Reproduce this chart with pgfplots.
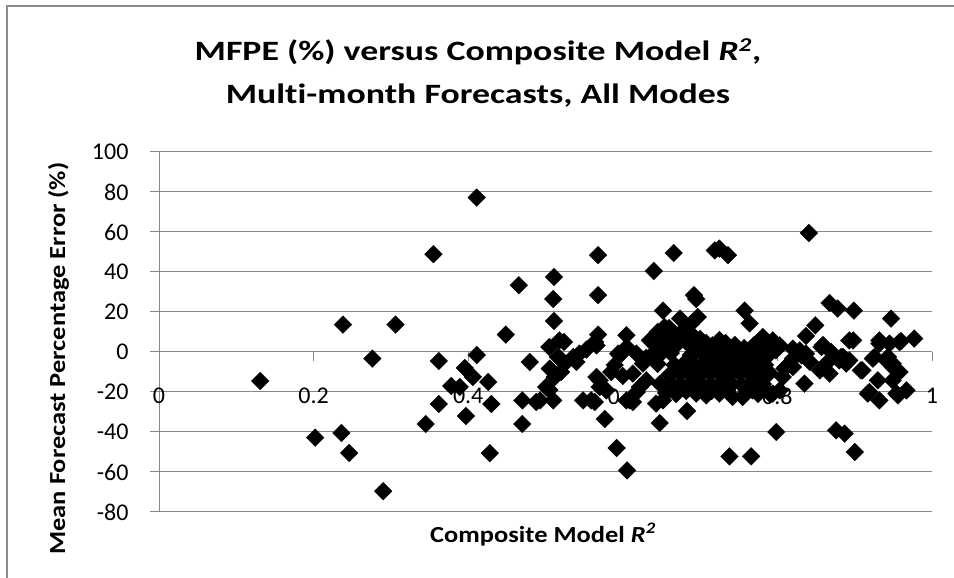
\documentclass[border=0pt]{standalone}
\usepackage{pgfplots}
\pgfplotsset{compat=1.18}
\usepackage{graphicx}
\usepackage{fontspec}
\setmainfont{Carlito}[Ligatures=NoCommon]
\definecolor{gridgray}{HTML}{878787}
\definecolor{bordergray}{HTML}{8C8C8C}
\begin{document}
\begin{tikzpicture}
\useasboundingbox (0,0) rectangle (954pt,578pt);
\draw[bordergray, line width=2pt] (7pt,0pt) -- (7pt,572pt) -- (954pt,572pt);
\begin{axis}[
  at={(159pt,66pt)}, anchor=south west,
  scale only axis, width=773pt, height=360pt,
  xmin=0, xmax=1, ymin=-80, ymax=100,
  xtick={0,0.2,0.4,0.6,0.8,1},
  xticklabels={0,0.2,0.4,0.6,0.8,1},
  ytick={-80,-60,-40,-20,0,20,40,60,80,100},
  axis x line=middle, axis y line=left,
  axis line style={-, draw=gridgray, line width=1pt},
  ymajorgrids, grid style={draw=gridgray, line width=1pt},
  tick style={draw=gridgray, line width=1pt},
  major tick length=9pt,
  tick align=outside,
  hide obscured x ticks=false,
  /pgf/number format/assume math mode=true,
  ticklabel style={font=\fontsize{24}{28}\selectfont, text=black},
  xticklabel style={anchor=center, yshift=-35pt},
  yticklabel style={anchor=east, xshift=-18pt},
  clip=false,
]
\addplot[only marks, mark=square*, mark size=6.3pt,
  mark options={rotate=45, fill=black, draw=black, line width=0.2pt}]
table {
x y
0.131 -14.5
0.202 -42.8
0.236 -40.5
0.238 13.7
0.246 -50.5
0.276 -3.3
0.290 -69.6
0.306 13.7
0.345 -36
0.355 48.9
0.362 -4.5
0.362 -26
0.378 -17
0.389 -17.5
0.3956 -8
0.397 -32
0.406 -12.5
0.411 -1.5
0.411 77.2
0.426 -15
0.430 -26
0.428 -50.6
0.4486 8.7
0.4654 33.4
0.470 -24.2
0.470 -36
0.4796 -5
0.488 -25
0.493 -24.2
0.5055 -8.3
0.501 -17.5
0.505 -19
0.510 -24.2
0.512 -12.5
0.511 37.5
0.510 26.5
0.511 15.5
0.518 5.8
0.505 2.5
0.516 -2.5
0.519 -3.3
0.524 5
0.525 -5.8
0.520 -10
0.536 -2.5
0.540 -5
0.544 -0.8
0.553 1.2
0.5486 -24.2
0.559 -24.2
0.5637 -25
0.566 3.3
0.564 5
0.568 8.7
0.568 48.4
0.568 28.4
0.566 -12.5
0.570 -14.2
0.570 -17.5
0.5766 -33.5
0.5788 -19.2
0.5895 -6.5
0.594 -0.8
0.592 -48
0.6055 -59.2
0.6047 8.4
0.605 2.5
0.596 -1.7
0.6176 -0.8
0.626 -5.8
0.613 -10.8
0.6305 -14.2
0.622 -17.5
0.6047 -24.2
0.609 -24.2
0.613 -25
0.643 -25.8
0.652 -24.2
0.6477 -35.5
0.683 -29.5
0.640 40.5
0.6658 49.5
0.652 20.7
0.637 5.8
0.635 5.8
0.643 0.8
0.652 7.5
0.654 12.5
0.663 9.2
0.678 10.8
0.674 16.7
0.682 10.8
0.692 28.4
0.695 26.5
0.697 17.5
0.708 4.5
0.716 3.3
0.719 50.8
0.725 51.7
0.736 48.4
0.745 3.5
0.738 -52.2
0.766 -52.2
0.7576 20.7
0.764 14.3
0.781 7.5
0.794 5.8
0.798 0.8
0.7986 -40
0.803 3.3
0.820 1.7
0.831 -1.7
0.842 -5
0.837 8
0.837 -0.8
0.829 0.8
0.820 -3.3
0.811 -7.5
0.849 13.3
0.8407 59.5
0.8675 24.5
0.878 21.7
0.899 20.7
0.859 3.5
0.857 2.5
0.863 -5.8
0.880 -4.2
0.893 5.8
0.898 5.8
0.893 -4.2
0.885 -2.5
0.910 -9.2
0.8697 0
0.8826 -2.5
0.889 -5.8
0.9256 -2.5
0.9235 -3.3
0.941 -4.2
0.943 -2.5
0.949 -5.8
0.949 -7.5
0.932 4.2
0.932 5.8
0.945 4.2
0.947 16.7
0.960 5.4
0.958 5
0.977 6.7
0.908 -9.2
0.8675 -10.8
0.855 -9.2
0.820 -7.5
0.958 -10
0.956 -10
0.835 -15.8
0.807 -12.5
0.809 -8.3
0.930 -14.2
0.949 -14.2
0.919 -20
0.917 -20.8
0.932 -24.2
0.954 -20.8
0.956 -21.7
0.967 -19.2
0.803 -19.2
0.790 -20.8
0.794 -20.8
0.876 -39.2
0.887 -40.8
0.900 -50
0.695 -20.8
0.708 -21.7
0.725 -20.8
0.742 -22.5
0.755 -22.5
0.768 -19.2
0.655 4
0.668 3
0.682 5
0.695 3.5
0.720 2.5
0.733 4.5
0.757 2
0.770 3.5
0.785 2
0.649 -1
0.662 -0.5
0.688 -1.5
0.700 0
0.713 -1
0.727 -0.5
0.740 -1.5
0.752 -0.8
0.765 -1.2
0.778 -0.5
0.790 -1
0.645 -6
0.667 -6.5
0.680 -5.5
0.693 -6.5
0.706 -5.5
0.719 -6
0.731 -6.5
0.744 -5.5
0.757 -6.5
0.770 -5.5
0.784 -6.5
0.660 -11.5
0.673 -10.5
0.686 -11
0.699 -11.5
0.712 -10.5
0.725 -11
0.738 -11.5
0.751 -10.5
0.764 -11
0.777 -11.5
0.790 -10.5
0.648 -16
0.662 -15.5
0.676 -16.5
0.689 -15.5
0.702 -16
0.715 -16.5
0.728 -15.5
0.741 -16
0.754 -16.5
0.767 -15.5
0.781 -16
0.656 -20.5
0.669 -21
0.682 -19.5
0.715 -19.5
0.735 -19
0.760 -20
0.775 -21
0.660 12
0.668 7
0.690 8.5
0.700 6.5
0.725 6
0.688 14
0.645 10
0.585 -10
0.600 -12
0.618 -20
0.630 -3
};
\end{axis}
\node[anchor=base, font=\fontsize{28}{34}\selectfont\bfseries] at (478pt,517.3pt) {\scalebox{1.28}[1]{MFPE (\%) versus Composite Model \textit{R\textsuperscript{2}},}};
\node[anchor=base, font=\fontsize{28}{34}\selectfont\bfseries] at (478pt,474pt) {\scalebox{1.28}[1]{Mul\kern0pt ti-month Forecasts, All Modes}};
\node[anchor=base, font=\fontsize{23}{28}\selectfont\bfseries] at (543pt,35pt) {\scalebox{1.15}[1]{Composite Model \textit{R\textsuperscript{2}}}};
\node[anchor=base, rotate=90, font=\fontsize{23}{28}\selectfont\bfseries] at (65pt,219.5pt) {\scalebox{1.15}[1]{Mean Forecast Percentage Error (\%)}};
\end{tikzpicture}
\end{document}
